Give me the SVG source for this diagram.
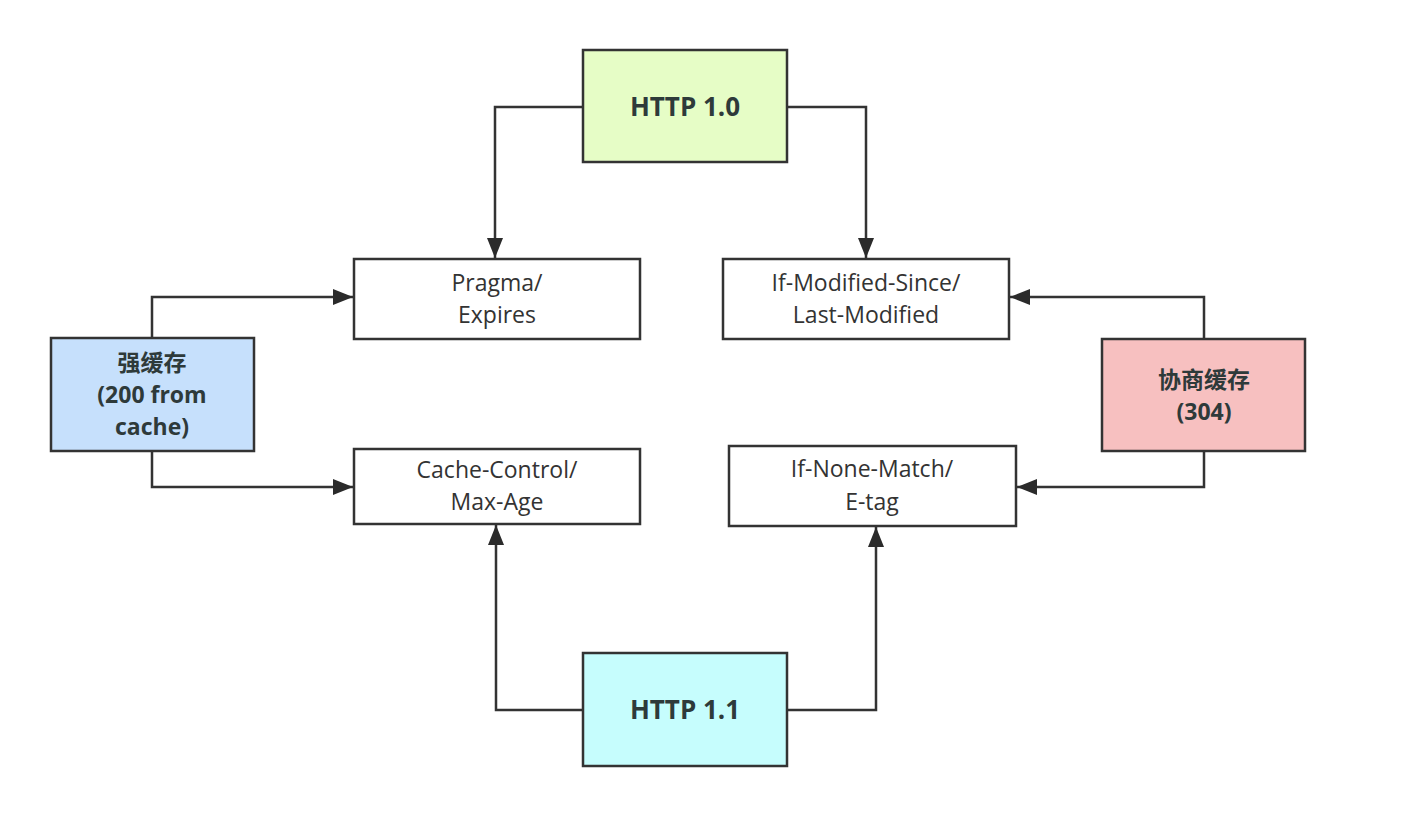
<svg xmlns="http://www.w3.org/2000/svg" width="1418" height="814" viewBox="0 0 1418 814">
<defs>
<marker id="arr" viewBox="0 0 20 16" refX="20" refY="8" markerWidth="20" markerHeight="16" markerUnits="userSpaceOnUse" orient="auto">
<path d="M0,0 L20,8 L0,16 z" fill="#2b2b2b"/>
</marker>
<style>
.box{stroke:#333;stroke-width:2.5}
.t{font-family:"Open Sans","Noto Sans","Noto Sans CJK SC",sans-serif;font-size:23px;fill:#333;text-anchor:middle}
.b{font-family:"Open Sans","Noto Sans","Noto Sans CJK SC",sans-serif;font-size:26px;font-weight:bold;fill:#2e3a3a;text-anchor:middle}
.m{font-family:"Open Sans","Noto Sans","Noto Sans CJK SC",sans-serif;font-size:23px;font-weight:bold;fill:#2e3a3a;text-anchor:middle}
.c{fill:none;stroke:#333;stroke-width:2.5}
</style>
</defs>
<rect width="1418" height="814" fill="#ffffff"/>
<g id="connectors">
<path class="c" d="M583,107 H495 V258" marker-end="url(#arr)"/>
<path class="c" d="M787,107 H866 V258" marker-end="url(#arr)"/>
<path class="c" d="M152,338 V297 H353" marker-end="url(#arr)"/>
<path class="c" d="M152,451 V487 H353" marker-end="url(#arr)"/>
<path class="c" d="M1204,339 V297 H1010" marker-end="url(#arr)"/>
<path class="c" d="M1204,451 V487 H1017" marker-end="url(#arr)"/>
<path class="c" d="M583,710 H496 V525" marker-end="url(#arr)"/>
<path class="c" d="M787,710 H876 V527" marker-end="url(#arr)"/>
</g>
<g id="http10">
<rect class="box" x="583" y="50" width="204" height="112" fill="#e6fdc6"/>
<text class="b" x="685" y="116">HTTP 1.0</text>
</g>
<g id="pragma">
<rect class="box" x="354" y="259" width="286" height="80" fill="#ffffff"/>
<text class="t" x="497" y="291">Pragma/</text>
<text class="t" x="497" y="323">Expires</text>
</g>
<g id="ifmodified">
<rect class="box" x="723" y="259" width="286" height="80" fill="#ffffff"/>
<text class="t" x="866" y="291">If-Modified-Since/</text>
<text class="t" x="866" y="323">Last-Modified</text>
</g>
<g id="strong">
<rect class="box" x="51" y="338" width="203" height="113" fill="#c6e0fc"/>
<text class="m" x="152" y="371">强缓存</text>
<text class="m" x="152" y="403">(200 from</text>
<text class="m" x="152" y="435">cache)</text>
</g>
<g id="negotiate">
<rect class="box" x="1102" y="339" width="203" height="112" fill="#f7c0c0"/>
<text class="m" x="1204" y="388">协商缓存</text>
<text class="m" x="1204" y="420">(304)</text>
</g>
<g id="cachecontrol">
<rect class="box" x="354" y="449" width="286" height="75" fill="#ffffff"/>
<text class="t" x="497" y="478">Cache-Control/</text>
<text class="t" x="497" y="510">Max-Age</text>
</g>
<g id="ifnonematch">
<rect class="box" x="729" y="446" width="287" height="80" fill="#ffffff"/>
<text class="t" x="872" y="477">If-None-Match/</text>
<text class="t" x="872" y="510">E-tag</text>
</g>
<g id="http11">
<rect class="box" x="583" y="653" width="204" height="113" fill="#c6fdfd"/>
<text class="b" x="685" y="719">HTTP 1.1</text>
</g>
</svg>
